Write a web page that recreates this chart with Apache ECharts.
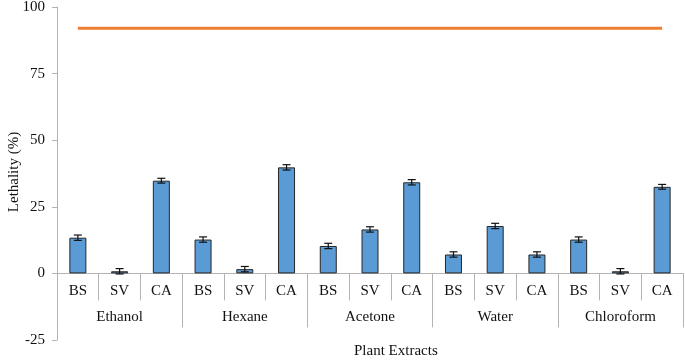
<!doctype html>
<html lang="en">
  <head>
    <meta charset="UTF-8" />
    <title>Lethality of plant extracts</title>
    <script src="https://cdn.jsdelivr.net/npm/echarts@6/dist/echarts.min.js"></script>
    <style>
      html, body { margin: 0; padding: 0; background: #fff; }
      #chart { width: 685px; height: 360px; }
    </style>
  </head>
  <body>
    <div id="chart"></div>
    <script>
      // Data
      var subCats = ['BS', 'SV', 'CA', 'BS', 'SV', 'CA', 'BS', 'SV', 'CA', 'BS', 'SV', 'CA', 'BS', 'SV', 'CA'];
      var groups = ['Ethanol', 'Hexane', 'Acetone', 'Water', 'Chloroform'];
      var lethality = [13.4, 0.8, 34.8, 12.7, 1.6, 39.8, 10.3, 16.5, 34.2, 7.1, 17.8, 7.1, 12.7, 0.8, 32.5];
      var errors = [1, 1, 0.9, 1, 1, 1, 1, 1, 1, 1, 1, 1, 1, 1, 0.9];
      var control = [92, 92, 92, 92, 92, 92, 92, 92, 92, 92, 92, 92, 92, 92, 92];
      var yTicks = { min: -25, max: 100, interval: 25 };

      var font = 'Liberation Serif';
      var axisGray = '#b3b3b3';

      // grid spans y = 7 .. 340; the x axes sit where value 0 falls
      var gridTop = 7, gridBottom = 20, gridH = 360 - gridTop - gridBottom;
      var zeroOffset = -gridH * (0 - yTicks.min) / (yTicks.max - yTicks.min);

      var chart = echarts.init(document.getElementById('chart'), null, { renderer: 'canvas' });

      chart.setOption({
        animation: false,
        grid: { left: 57, right: 2, top: gridTop, bottom: gridBottom, containLabel: false, outerBoundsMode: 'none' },
        xAxis: [
          {
            type: 'category',
            data: subCats,
            position: 'bottom',
            offset: zeroOffset,
            axisLine: { onZero: false, lineStyle: { color: axisGray, width: 1 } },
            axisTick: { show: true, interval: 0, length: 27, lineStyle: { color: axisGray } },
            axisLabel: { interval: 0, margin: 10, fontFamily: font, fontSize: 15, color: '#111' }
          },
          {
            type: 'category',
            data: groups,
            position: 'bottom',
            offset: zeroOffset,
            axisLine: { show: false, onZero: false },
            axisTick: { show: true, interval: 0, length: 54, lineStyle: { color: axisGray } },
            axisLabel: { interval: 0, margin: 36, fontFamily: font, fontSize: 15, color: '#111' }
          }
        ],
        yAxis: {
          type: 'value',
          min: yTicks.min,
          max: yTicks.max,
          interval: yTicks.interval,
          axisLine: { show: true, lineStyle: { color: axisGray } },
          axisTick: { show: true, length: 5, lineStyle: { color: axisGray } },
          axisLabel: { margin: 12, fontFamily: font, fontSize: 15, color: '#111' },
          splitLine: { show: false }
        },
        graphic: [
          {
            type: 'text',
            x: 14,
            y: 172,
            rotation: Math.PI / 2,
            style: { text: 'Lethality (%)', font: '15px "Liberation Serif"', fill: '#111', align: 'center', verticalAlign: 'middle' }
          },
          {
            type: 'text',
            left: 354,
            top: 344,
            style: { text: 'Plant Extracts', font: '15px "Liberation Serif"', fill: '#111', textAlign: 'center' }
          }
        ],
        series: [
          {
            type: 'bar',
            data: lethality,
            barWidth: 17,
            itemStyle: { color: '#5b9bd5', borderColor: '#262626', borderWidth: 1 }
          },
          {
            type: 'custom',
            data: lethality.map(function (v, i) { return [i, v - errors[i], v + errors[i]]; }),
            renderItem: function (params, api) {
              var lo = api.coord([api.value(0), api.value(1)]);
              var hi = api.coord([api.value(0), api.value(2)]);
              var w = 4;
              var st = { stroke: '#111', lineWidth: 1.2 };
              return {
                type: 'group',
                children: [
                  { type: 'line', shape: { x1: hi[0], y1: hi[1], x2: lo[0], y2: lo[1] }, style: st },
                  { type: 'line', shape: { x1: hi[0] - w, y1: hi[1], x2: hi[0] + w, y2: hi[1] }, style: st },
                  { type: 'line', shape: { x1: lo[0] - w, y1: lo[1], x2: lo[0] + w, y2: lo[1] }, style: st }
                ]
              };
            },
            z: 5
          },
          {
            type: 'line',
            data: control,
            symbol: 'none',
            lineStyle: { color: '#ed7d31', width: 3 },
            z: 6
          }
        ]
      });
    </script>
  </body>
</html>
